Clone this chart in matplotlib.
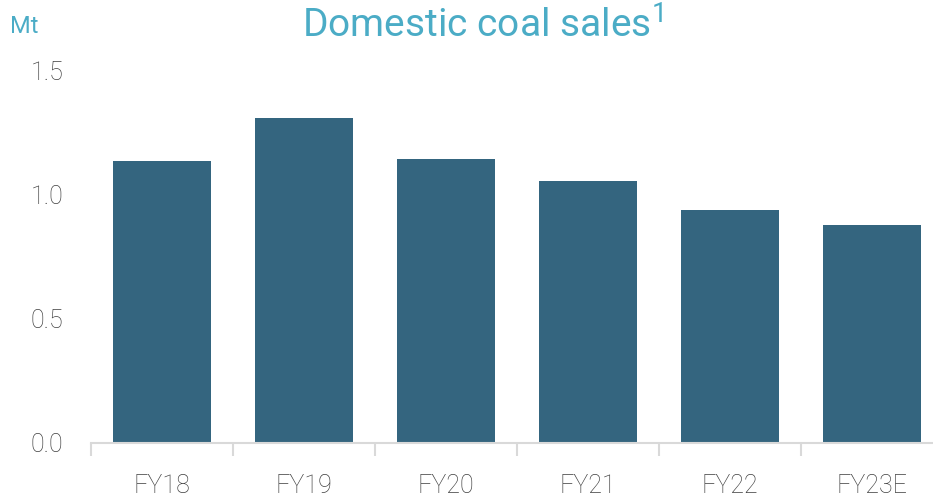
import matplotlib.pyplot as plt
import numpy as np

plt.rcParams['font.family'] = ['Roboto', 'DejaVu Sans']
plt.rcParams['mathtext.default'] = 'regular'

# --- data ---
years = ['FY18', 'FY19', 'FY20', 'FY21', 'FY22', 'FY23E']
sales = [1.134, 1.307, 1.142, 1.053, 0.937, 0.877]  # Mt

bar_color = '#34657F'
title_color = '#4BACC6'
text_grey = '#3F3F3F'
axis_grey = '#D9D9D9'

fig = plt.figure(figsize=(9.33, 4.99), dpi=100)
# right edge runs slightly past the figure, as in the original slide
ax = fig.add_axes([91 / 933, 56 / 499, 852 / 933, 373 / 499])

x = np.arange(len(years))
ax.bar(x, sales, width=0.69, color=bar_color)

ax.set_xlim(-0.5, len(years) - 0.5)
ax.set_ylim(0, 1.5)
ax.set_yticks([0.0, 0.5, 1.0, 1.5])
ax.set_yticklabels(['0.0', '0.5', '1.0', '1.5'])

# category labels centered, tick marks at category boundaries
ax.set_xticks(x)
ax.set_xticklabels(years)
ax.set_xticks(np.arange(len(years) + 1) - 0.5, minor=True)
ax.tick_params(axis='x', which='major', length=0, pad=22,
               labelsize=18, labelcolor=text_grey)
ax.tick_params(axis='x', which='minor', length=9, width=1.5, color=axis_grey)
ax.tick_params(axis='y', length=0, pad=20, labelsize=18, labelcolor=text_grey)
for lbl in ax.get_xticklabels() + ax.get_yticklabels():
    lbl.set_fontweight('light')

for side in ['top', 'right', 'left']:
    ax.spines[side].set_visible(False)
ax.spines['bottom'].set_color(axis_grey)
ax.spines['bottom'].set_linewidth(1.5)

fig.text(0.517, 1 - 38 / 499, 'Domestic coal sales$^1$', ha='center',
         va='baseline', fontsize=28, color=title_color)
fig.text(10 / 933, 1 - 33 / 499, 'Mt', ha='left', va='baseline',
         fontsize=17, color=title_color)

fig.savefig('out.png', dpi=100)
